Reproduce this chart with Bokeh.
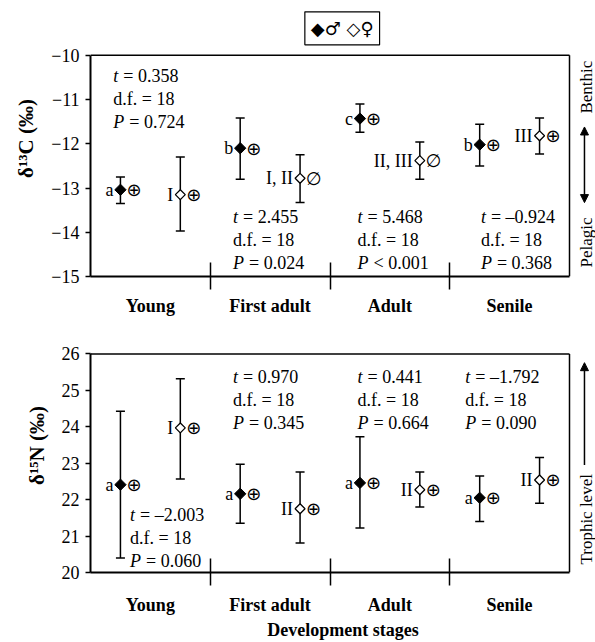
from bokeh.plotting import figure
from bokeh.models import (Range1d, FixedTicker, Whisker, TeeHead, Label, Arrow,
                          NormalHead, ColumnDataSource)
from bokeh.layouts import column
from bokeh.embed import file_html
from bokeh.resources import INLINE
from bokeh.core.properties import value
import math

# ---------------- data ----------------
stages = ["Young", "First adult", "Adult", "Senile"]

# delta 13C
c_male_mean = [-13.04, -12.10, -11.43, -12.02]
c_male_lo = [-13.35, -12.80, -11.74, -12.50]
c_male_hi = [-12.75, -11.42, -11.10, -11.56]
c_fem_mean = [-13.15, -12.78, -12.38, -11.82]
c_fem_lo = [-13.97, -13.33, -12.80, -12.23]
c_fem_hi = [-12.30, -12.25, -11.96, -11.42]
c_male_letters = ["a", "b", "c", "b"]
c_fem_groups = ["I", "I, II", "II, III", "III"]
c_male_sym = ["⊕", "⊕", "⊕", "⊕"]
c_fem_sym = ["⊕", "∅", "∅", "⊕"]
c_t = ["0.358", "2.455", "5.468", "–0.924"]
c_df = ["18", "18", "18", "18"]
c_p = ["= 0.724", "= 0.024", "< 0.001", "= 0.368"]

# delta 15N
n_male_mean = [22.41, 22.16, 22.46, 22.05]
n_male_lo = [20.40, 21.35, 21.22, 21.40]
n_male_hi = [24.43, 22.97, 23.73, 22.65]
n_fem_mean = [23.97, 21.75, 22.27, 22.54]
n_fem_lo = [22.57, 20.81, 21.80, 21.90]
n_fem_hi = [25.32, 22.76, 22.76, 23.16]
n_male_letters = ["a", "a", "a", "a"]
n_fem_groups = ["I", "II", "II", "II"]
n_male_sym = ["⊕", "⊕", "⊕", "⊕"]
n_fem_sym = ["⊕", "⊕", "⊕", "⊕"]
n_t = ["–2.003", "0.970", "0.441", "–1.792"]
n_df = ["18", "18", "18", "18"]
n_p = ["= 0.060", "= 0.345", "= 0.664", "= 0.090"]

c_ticks = [-15, -14, -13, -12, -11, -10]
n_ticks = [20, 21, 22, 23, 24, 25, 26]

# ---------------- layout / style ----------------
SERIF = "Liberation Serif"
SYM = "DejaVu Sans"
FS = "18px"
W = 595
LEFT = 90            # frame left (px)
PX_X = 479 / 4.0     # px per stage unit

c_stat_x = [0.19, 1.19, 2.23, 3.26]
c_stat_y = [-10.47, -13.65, -13.65, -13.65]
n_stat_x = [0.33, 1.19, 2.23, 3.13]
n_stat_y = [21.59, 25.38, 25.38, 25.38]


def make_fig(height, ylo, yhi, px_y, frame_h, border_bottom, ticks, ylabel, label_standoff):
    xmax = (W - LEFT) / PX_X
    ytop = ylo + frame_h / px_y
    p = figure(width=W, height=height, x_range=Range1d(0, xmax), y_range=Range1d(ylo, ytop),
               output_backend="svg", toolbar_location=None,
               min_border_left=LEFT, min_border_right=0,
               min_border_top=0, min_border_bottom=border_bottom)
    p.grid.visible = False
    p.outline_line_color = None
    p.background_fill_color = "white"
    p.border_fill_color = "white"
    # frame: top and right borders
    p.segment(x0=[0, 4], y0=[yhi, ylo], x1=[4, 4], y1=[yhi, yhi],
              line_color="black", line_width=1.5)
    # y axis
    ya = p.yaxis[0]
    ya.bounds = (ylo, yhi)
    ya.ticker = FixedTicker(ticks=ticks, minor_ticks=[])
    ya.major_label_overrides = {t: (("−" + str(abs(t))) if t < 0 else str(t)) for t in ticks}
    ya.major_tick_in = 0
    ya.major_tick_out = 5
    ya.major_tick_line_width = 1.5
    ya.major_tick_line_color = "black"
    ya.axis_line_width = 2
    ya.axis_line_color = "black"
    ya.major_label_text_font = SERIF
    ya.major_label_text_font_size = FS
    ya.major_label_text_color = "black"
    ya.major_label_standoff = 6
    ya.axis_label = ylabel
    ya.axis_label_text_font = SERIF
    ya.axis_label_text_font_style = "bold"
    ya.axis_label_text_font_size = "21px"
    ya.axis_label_text_color = "black"
    ya.axis_label_standoff = 10
    # x axis
    xa = p.xaxis[0]
    xa.bounds = (0, 4)
    xa.ticker = FixedTicker(ticks=[0.5, 1.5, 2.5, 3.5], minor_ticks=[1, 2, 3])
    xa.major_label_overrides = {0.5: stages[0], 1.5: stages[1], 2.5: stages[2], 3.5: stages[3]}
    xa.major_tick_line_color = None
    xa.major_tick_in = 0
    xa.major_tick_out = 0
    xa.minor_tick_in = 14
    xa.minor_tick_out = 13
    xa.minor_tick_line_width = 1.5
    xa.minor_tick_line_color = "black"
    xa.axis_line_width = 2
    xa.axis_line_color = "black"
    xa.major_label_text_font = SERIF
    xa.major_label_text_font_style = "bold"
    xa.major_label_text_font_size = FS
    xa.major_label_text_color = "black"
    xa.major_label_standoff = label_standoff
    return p


def add_series(p, m_mean, m_lo, m_hi, f_mean, f_lo, f_hi, m_let, f_let, m_sym, f_sym):
    xm = [i + 0.25 for i in range(len(stages))]
    xf = [i + 0.75 for i in range(len(stages))]
    for xs, lo, hi in ((xm, m_lo, m_hi), (xf, f_lo, f_hi)):
        src = ColumnDataSource(dict(x=xs, lo=lo, hi=hi))
        w = Whisker(base="x", lower="lo", upper="hi", source=src, line_width=1.5,
                    line_color="black",
                    lower_head=TeeHead(size=9, line_width=1.5, line_color="black"),
                    upper_head=TeeHead(size=9, line_width=1.5, line_color="black"),
                    level="underlay")
        p.add_layout(w)
    p.scatter(xm, m_mean, marker="square", angle=math.pi / 4, size=8,
              fill_color="black", line_color="black", line_width=1)
    p.scatter(xf, f_mean, marker="square", angle=math.pi / 4, size=7,
              fill_color="white", line_color="black", line_width=1.3)
    common = dict(text_baseline="middle", text_color="black")
    p.text(xm, m_mean, text=m_let, x_offset=-7, text_align="right",
           text_font=value(SERIF), text_font_size=FS, **common)
    p.text(xf, f_mean, text=f_let, x_offset=-7, text_align="right",
           text_font=value(SERIF), text_font_size=FS, **common)
    p.text(xm, m_mean, text=m_sym, x_offset=6, text_align="left",
           text_font=value(SYM), text_font_size="18px", **common)
    p.text(xf, f_mean, text=f_sym, x_offset=6, text_align="left",
           text_font=value(SYM), text_font_size="18px", **common)


def add_stats(p, xs, ys, tvals, dfs, pvals):
    common = dict(text_baseline="middle", text_color="black", text_font=value(SERIF),
                  text_font_size=FS, text_align="left")
    p.text(xs, ys, text=["t"] * len(xs), text_font_style="italic", **common)
    p.text(xs, ys, text=["= " + t for t in tvals], x_offset=10, **common)
    p.text(xs, ys, text=["d.f. = " + d for d in dfs], y_offset=23, **common)
    p.text(xs, ys, text=["P"] * len(xs), y_offset=46, text_font_style="italic", **common)
    p.text(xs, ys, text=pvals, x_offset=16, y_offset=46, **common)


def side_label(p, x, y, txt):
    p.add_layout(Label(x=x, y=y, text=txt, angle=math.pi / 2,
                       text_align="center", text_baseline="middle",
                       text_font=SERIF, text_font_size="17px", text_color="black"))


# ---------------- top panel ----------------
p1 = make_fig(318, -15, -10, 222 / 5.0, 277, 41, c_ticks, "δ¹³C (‰)", 6)
add_series(p1, c_male_mean, c_male_lo, c_male_hi, c_fem_mean, c_fem_lo, c_fem_hi,
           c_male_letters, c_fem_groups, c_male_sym, c_fem_sym)
add_stats(p1, c_stat_x, c_stat_y, c_t, c_df, c_p)

p1.add_layout(Label(x=1.79, y=-9.39, text="◆♂ ◇♀", text_baseline="middle",
                    text_font=SYM, text_font_size="18px", text_color="black",
                    border_line_color="black", border_line_width=1.2,
                    background_fill_color="white", padding=6))
side_label(p1, 4.14, -10.72, "Benthic")
side_label(p1, 4.14, -14.23, "Pelagic")
p1.add_layout(Arrow(x_start=4.125, y_start=-13.33, x_end=4.125, y_end=-11.62,
                    line_width=1.5, line_color="black",
                    start=NormalHead(size=8, fill_color="black", line_color="black"),
                    end=NormalHead(size=8, fill_color="black", line_color="black")))

# ---------------- bottom panel ----------------
p2 = make_fig(324, 20, 26, 222 / 6.0, 258, 66, n_ticks, "δ¹⁵N (‰)", 9)
add_series(p2, n_male_mean, n_male_lo, n_male_hi, n_fem_mean, n_fem_lo, n_fem_hi,
           n_male_letters, n_fem_groups, n_male_sym, n_fem_sym)
add_stats(p2, n_stat_x, n_stat_y, n_t, n_df, n_p)
p2.xaxis[0].axis_label = "Development stages"
p2.xaxis[0].axis_label_text_font = SERIF
p2.xaxis[0].axis_label_text_font_style = "bold"
p2.xaxis[0].axis_label_text_font_size = FS
p2.xaxis[0].axis_label_text_color = "black"
p2.xaxis[0].axis_label_standoff = 2

side_label(p2, 4.14, 21.46, "Trophic level")
p2.add_layout(Arrow(x_start=4.125, y_start=22.95, x_end=4.125, y_end=25.76,
                    line_width=1.5, line_color="black",
                    end=NormalHead(size=8, fill_color="black", line_color="black")))

layout = column(p1, p2)
open("out.html", "w").write(file_html(layout, INLINE))
